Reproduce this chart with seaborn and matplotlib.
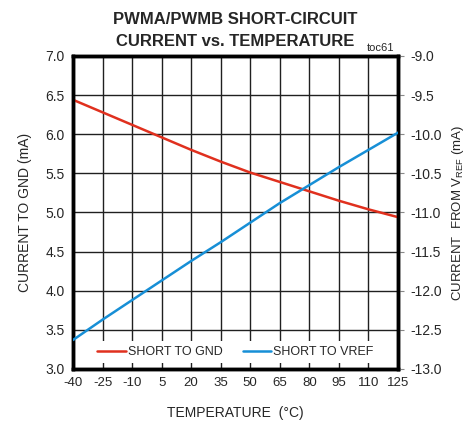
import matplotlib
matplotlib.use("Agg")
import matplotlib.pyplot as plt
import seaborn as sns
import pandas as pd
from matplotlib.lines import Line2D

temperature = [-40, -25, -10, 5, 20, 35, 50, 65, 80, 95, 110, 125]
short_to_gnd = [6.44, 6.28, 6.12, 5.96, 5.80, 5.65, 5.51, 5.39, 5.27, 5.15, 5.04, 4.94]
short_to_vref = [-12.63, -12.37, -12.12, -11.87, -11.62, -11.38, -11.13, -10.88,
                 -10.65, -10.42, -10.20, -9.98]
left_ticks = [3.0, 3.5, 4.0, 4.5, 5.0, 5.5, 6.0, 6.5, 7.0]
right_ticks = [-13.0, -12.5, -12.0, -11.5, -11.0, -10.5, -10.0, -9.5, -9.0]

RED = "#E0301E"
BLUE = "#178FD6"

sns.set_style("white")
plt.rcParams["font.family"] = ["Liberation Sans Narrow", "Liberation Sans", "DejaVu Sans"]
plt.rcParams["mathtext.fontset"] = "custom"
plt.rcParams["mathtext.rm"] = "Liberation Sans"

df = pd.DataFrame({"temp": temperature, "gnd": short_to_gnd, "vref": short_to_vref})

fig = plt.figure(figsize=(4.71, 4.29), dpi=100)
ax = fig.add_axes([0.155, 0.14, 0.69, 0.7295])
ax2 = ax.twinx()

sns.lineplot(data=df, x="temp", y="gnd", ax=ax, color=RED, lw=1.8, zorder=3)
sns.lineplot(data=df, x="temp", y="vref", ax=ax2, color=BLUE, lw=1.8, zorder=3)

ax.set_xlim(-40, 125)
ax.set_ylim(3.0, 7.0)
ax2.set_ylim(-13.0, -9.0)
ax.set_xticks(temperature)
ax.set_yticks(left_ticks)
ax2.set_yticks(right_ticks)
ax.set_xticklabels([str(t) for t in temperature], fontsize=9.5)
ax.set_yticklabels([f"{v:.1f}" for v in left_ticks], fontsize=10)
ax2.set_yticklabels([f"{v:.1f}" for v in right_ticks], fontsize=10)

ax.grid(True, color="#202020", lw=1.0)
ax.set_axisbelow(True)
ax.tick_params(axis="both", length=0, pad=6)
ax2.tick_params(axis="y", length=4, width=0.8, color="#888888", pad=5)

for sp in list(ax.spines.values()) + list(ax2.spines.values()):
    sp.set_linewidth(2.5)
    sp.set_color("black")

ax.set_xlabel("TEMPERATURE  (°C)", fontsize=10, labelpad=12)
ax.set_ylabel("CURRENT TO GND (mA)", fontsize=10, labelpad=10)
ax2.set_ylabel(r"CURRENT  FROM V$_{\mathregular{REF}}$ (mA)", fontsize=9.5, labelpad=6)

ax.set_title("PWMA/PWMB SHORT-CIRCUIT\nCURRENT vs. TEMPERATURE",
             fontsize=12, fontweight="bold", linespacing=1.6, pad=7)
ax.text(0.99, 1.008, "toc61", transform=ax.transAxes, ha="right", va="bottom", fontsize=8)

handles = [Line2D([], [], color=RED, lw=1.8), Line2D([], [], color=BLUE, lw=1.8)]
leg = ax2.legend(handles, ["SHORT TO GND", "SHORT TO VREF"], loc="lower center",
                 ncol=2, frameon=True, fontsize=9, handlelength=2.3, handletextpad=0.15,
                 columnspacing=1.6, bbox_to_anchor=(0.5, 0.01), borderaxespad=0.2)
leg.get_frame().set_facecolor("white")
leg.get_frame().set_edgecolor("none")
leg.get_frame().set_alpha(1.0)

fig.savefig("out.png", dpi=100)
